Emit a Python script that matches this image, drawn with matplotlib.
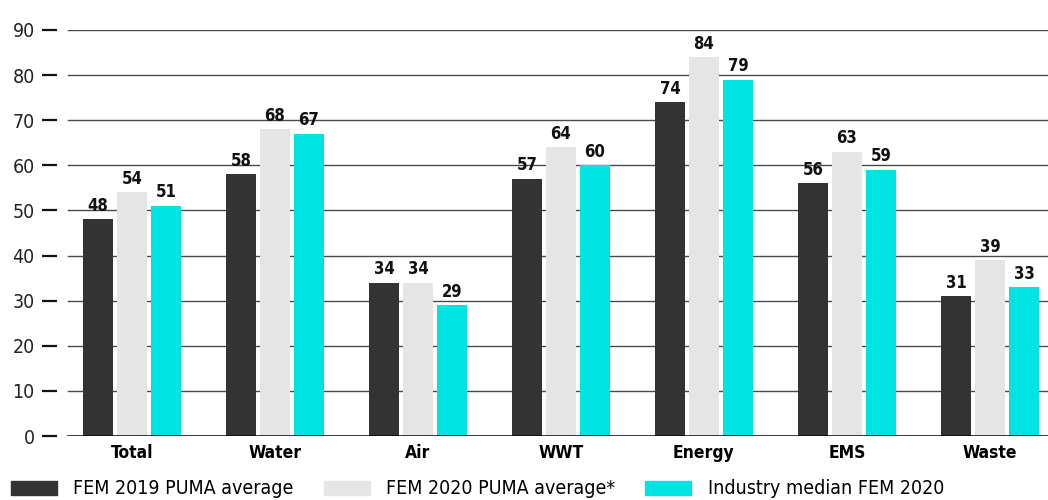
import numpy as np
import matplotlib
matplotlib.use("Agg")
import matplotlib.pyplot as plt
from matplotlib.patches import Patch

# ----------------------------
# Data
# ----------------------------
categories = ["Total", "Water", "Air", "WWT", "Energy", "EMS", "Waste"]
fem_2019 = [48, 58, 34, 57, 74, 56, 31]
fem_2020 = [54, 68, 34, 64, 84, 63, 39]
industry_2020 = [51, 67, 29, 60, 79, 59, 33]
series_names = ["FEM 2019 PUMA average", "FEM 2020 PUMA average*", "Industry median FEM 2020"]
yticks = [0, 10, 20, 30, 40, 50, 60, 70, 80, 90]

COLORS = ["#333333", "#e5e5e5", "#00e3e3"]

plt.rcParams["font.family"] = "DejaVu Sans"
plt.rcParams["font.stretch"] = "condensed"

fig = plt.figure(figsize=(10.48, 5.0), dpi=100)
ax = fig.add_axes([57 / 1048, 64 / 500, 1 - 57 / 1048, 406 / 500])

x = np.arange(len(categories))
width = 0.21
offset = 0.238

for i, vals in enumerate([fem_2019, fem_2020, industry_2020]):
    pos = x + (i - 1) * offset
    bars = ax.bar(pos, vals, width=width, color=COLORS[i], zorder=3)
    for b, v in zip(bars, vals):
        ax.text(b.get_x() + b.get_width() / 2, v + 1.0, f"{v}",
                ha="center", va="bottom", fontsize=12, fontweight="bold",
                color="#111111", zorder=4)

# gridlines start a little right of the tick dashes
for t in yticks[1:]:
    ax.axhline(t, xmin=0.011, xmax=1, color="#4a4a4a", lw=1.0, zorder=1)
ax.axhline(0, xmin=0.011, xmax=1, color="#000000", lw=1.8, zorder=5)

ax.set_ylim(0, 90)
ax.set_xlim(-0.524, 6.406)
ax.set_yticks(yticks)
ax.set_yticklabels([str(t) for t in yticks], fontsize=14, color="#222222")
ax.tick_params(axis="y", direction="out", length=11, width=1.6, pad=5, color="#111111")
ax.set_xticks(x)
ax.set_xticklabels(categories, fontsize=12.5, fontweight="bold")
ax.tick_params(axis="x", length=0, pad=6)

for s in ax.spines.values():
    s.set_visible(False)

handles = [Patch(color=c) for c in COLORS]
fig.legend(handles, series_names, loc="lower left", bbox_to_anchor=(-0.006, -0.032),
           ncol=3, frameon=False, fontsize=14, handlelength=2.35, handleheight=0.75,
           columnspacing=1.55, handletextpad=0.85)

fig.savefig("out.png", dpi=100)
